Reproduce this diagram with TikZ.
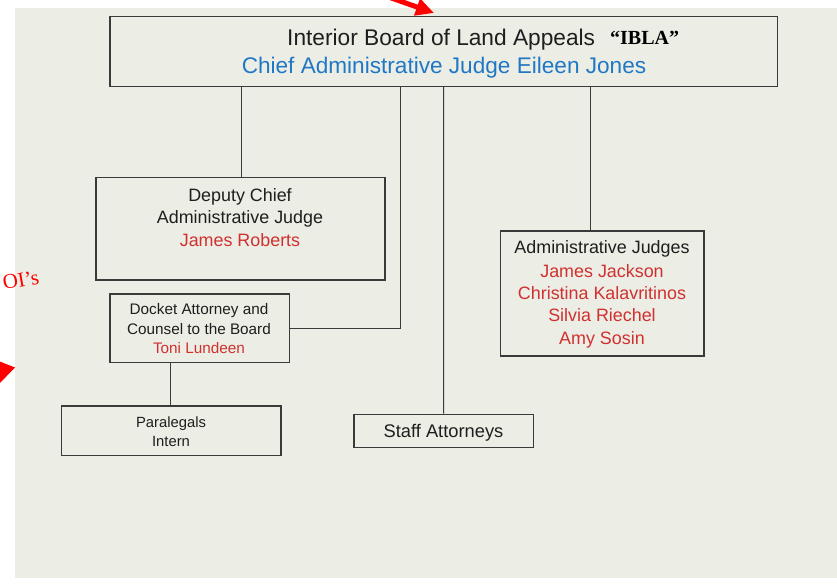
\documentclass[tikz,border=0pt]{standalone}
\usepackage{fontspec}
\setmainfont{Liberation Sans}
\newfontfamily\serf{Liberation Serif}
\usetikzlibrary{arrows.meta}
\definecolor{bgc}{HTML}{ECEEE5}
\definecolor{boxc}{HTML}{3A3A3A}
\definecolor{txtc}{HTML}{1E1E1E}
\definecolor{bluec}{HTML}{2078C4}
\definecolor{redc}{HTML}{D0302F}
\definecolor{annc}{HTML}{FF0000}
\begin{document}
\begin{tikzpicture}[x=1pt,y=-1pt,
  box/.style={draw=boxc, line width=1.2pt, rectangle, inner sep=0pt, fill=none},
  txt/.style={inner sep=0pt, anchor=base, text=txtc},
  lnk/.style={draw=boxc, line width=1.1pt}]
\useasboundingbox (0,0) rectangle (837,585);
\fill[white] (0,0) rectangle (837,585);
\fill[bgc] (15,8) rectangle (837,578);

% red annotation fragments
\draw[annc, line width=5pt, -{Triangle[length=18pt,width=17pt]}] (380,-6) -- (434,13);
\node[inner sep=0pt, anchor=base west, rotate=10, text=annc, font=\serf\fontsize{21}{24}\selectfont] (ois) at (4,290) {OI’s};
\fill[annc] (-4,360) -- (15,367.5) -- (-2,385) -- cycle;

% boxes
\node[box, minimum width=667.3pt, minimum height=69.9pt] (top) at (443.6,51.7) {};
\node[box, minimum width=289pt, minimum height=102.5pt] (dep) at (240.5,228.75) {};
\node[box, minimum width=179.3pt, minimum height=68.7pt] (dock) at (199.65,328.35) {};
\node[box, minimum width=219.3pt, minimum height=49.7pt] (para) at (171.35,430.85) {};
\node[box, minimum width=179.3pt, minimum height=33.4pt] (staff) at (443.65,431) {};
\node[box, minimum width=203.3pt, minimum height=125pt] (adm) at (602.35,293.5) {};

% texts
\node[txt, anchor=base west, font=\fontsize{22.7}{26}\selectfont] (t1) at (287,45.7) {Interior Board of Land Appeals};
\node[txt, anchor=base west, text=black, font=\serf\bfseries\fontsize{20}{22}\selectfont] (t2) at (610,45) {“IBLA”};
\node[txt, text=bluec, font=\fontsize{22.6}{26}\selectfont] (t3) at (444,74) {Chief Administrative Judge Eileen Jones};

\node[txt, font=\fontsize{17.9}{21}\selectfont] (d1) at (240,201.7) {Deputy Chief};
\node[txt, font=\fontsize{17.9}{21}\selectfont] (d2) at (240,224) {Administrative Judge};
\node[txt, text=redc, font=\fontsize{17.9}{21}\selectfont] (d3) at (240,246.7) {James Roberts};

\node[txt, font=\fontsize{15.3}{18}\selectfont] (k1) at (199,314.3) {Docket Attorney and};
\node[txt, font=\fontsize{15.3}{18}\selectfont] (k2) at (199,334) {Counsel to the Board};
\node[txt, text=redc, font=\fontsize{15.3}{18}\selectfont] (k3) at (199,353.3) {Toni Lundeen};

\node[txt, font=\fontsize{14.8}{18}\selectfont] (p1) at (171,427.3) {Paralegals};
\node[txt, font=\fontsize{14.8}{18}\selectfont] (p2) at (171,446) {Intern};

\node[txt, font=\fontsize{18.3}{21}\selectfont] (s1) at (443.5,437.3) {Staff Attorneys};

\node[txt, font=\fontsize{17.9}{21}\selectfont] (a1) at (602,253.3) {Administrative Judges};
\node[txt, text=redc, font=\fontsize{17.9}{21}\selectfont] (a2) at (602,277.3) {James Jackson};
\node[txt, text=redc, font=\fontsize{17.9}{21}\selectfont] (a3) at (602,299.5) {Christina Kalavritinos};
\node[txt, text=redc, font=\fontsize{17.9}{21}\selectfont] (a4) at (602,321.7) {Silvia Riechel};
\node[txt, text=redc, font=\fontsize{17.9}{21}\selectfont] (a5) at (602,344) {Amy Sosin};

% connectors
\draw[lnk] ([xshift=1.2pt]dep.north) -- ([xshift=1.2pt]dep.north |- top.south);
\draw[lnk] ([xshift=-42.9pt]top.south) |- (dock.east);
\draw[lnk] (top.south) -- (staff.north);
\draw[lnk] ([xshift=-12.3pt]adm.north) -- ([xshift=-12.3pt]adm.north |- top.south);
\draw[lnk] ([xshift=-29.6pt]dock.south) -- ([xshift=-29.6pt]dock.south |- para.north);
\end{tikzpicture}
\end{document}
